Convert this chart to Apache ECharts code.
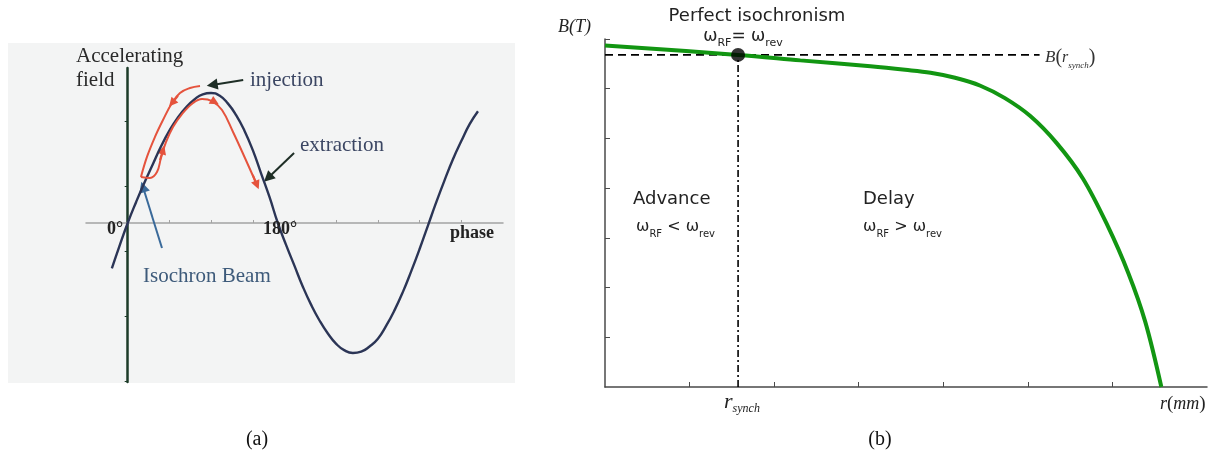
<!DOCTYPE html>
<html>
<head>
<meta charset="utf-8">
<script src="https://cdn.jsdelivr.net/npm/echarts@6.0.0/dist/echarts.min.js"></script>
<style>
  html, body { margin: 0; padding: 0; background: #fff; }
  #chart { width: 1212px; height: 457px; }
</style>
</head>
<body>
<div id="chart"></div>
<script>
// ---- panel (a): accelerating field vs phase (degrees) ----
var phaseDeg = [-19, -10, 0, 10, 20, 30, 40, 50, 60, 70, 80, 90, 100, 110, 120, 130, 140, 150, 160, 170,
  180, 190, 200, 210, 220, 230, 240, 250, 260, 270, 280, 290, 300, 310, 320, 330, 340, 350, 360,
  370, 380, 390, 400, 410, 420];
var fieldA = [-0.35, -0.18, 0, 0.16, 0.31, 0.45, 0.59, 0.71, 0.81, 0.89, 0.95, 0.99, 1.0, 0.98, 0.92, 0.83, 0.71, 0.56, 0.38, 0.2,
  0, -0.17, -0.33, -0.49, -0.63, -0.75, -0.85, -0.93, -0.98, -1.0, -0.99, -0.95, -0.89, -0.79, -0.67, -0.53, -0.37, -0.2, -0.02,
  0.16, 0.33, 0.49, 0.63, 0.76, 0.86];
var fieldTicks = [-1.22, -0.72, -0.22, 0.28, 0.78];
var phaseTicks = [50, 100, 150, 200, 250, 300, 350, 400];

// red beam paths [phase, field]
var outerPath = [[86.7, 1.054], [74.7, 1.038], [62.7, 1.0], [53.1, 0.923], [42.3, 0.792], [32.7, 0.662], [23.1, 0.508], [15.9, 0.354]];
var innerPath = [[15.9, 0.354], [26.7, 0.346], [35.1, 0.392], [39.9, 0.5], [46, 0.623], [54.3, 0.738], [65.1, 0.838],
  [78.3, 0.923], [89.1, 0.954], [101.1, 0.938], [113.1, 0.869], [126.3, 0.7], [140.6, 0.5], [155, 0.292]];
var redHeads = [
  [[60.3, 0.977], [53.1, 0.923]],
  [[38.7, 0.485], [42.3, 0.562]],
  [[100.5, 0.945], [104.5, 0.93]],
  [[150, 0.369], [155, 0.292]]
];
var blackArrows = [
  [[138.5, 1.1], [101.3, 1.062]],
  [[199.5, 0.538], [168.2, 0.346]]
];
var blueArrow = [[41.1, -0.192], [18.3, 0.277]];

// ---- panel (b): B(T) vs r(mm) ----
var radiusR = [0, 1.574, 2.31, 3.14, 3.55, 3.85, 4.14, 4.44, 4.73, 5.03, 5.34, 5.65, 5.94, 6.19, 6.39, 6.58];
var fieldB = [6.87, 6.68, 6.57, 6.45, 6.38, 6.32, 6.22, 6.06, 5.81, 5.45, 4.91, 4.2, 3.26, 2.29, 1.31, 0];
var rSynch = 1.574;
var bSynch = 6.68;
var dashEndR = 5.14;
var rTicks = [1, 2, 3, 4, 5, 6];
var bTicks = [1, 2, 3, 4, 5, 6, 7];

var chart = echarts.init(document.getElementById('chart'));

var serif = 'Liberation Serif';
var sans = 'DejaVu Sans';

function txt(x, y, text, font, fill, align) {
  return {
    type: 'text', x: x, y: y, z: 100,
    style: { text: text, font: font, fill: fill, textAlign: align || 'left', textVerticalAlign: 'middle' }
  };
}
function rich(x, y, text, richStyles, align) {
  return {
    type: 'text', x: x, y: y, z: 100,
    style: { text: text, rich: richStyles, textAlign: align || 'left', textVerticalAlign: 'middle' }
  };
}
var omegaRich = {
  w: { fontSize: 16, fontFamily: sans, fill: '#222', lineHeight: 24, verticalAlign: 'middle' },
  s: { fontSize: 10, fontFamily: sans, fill: '#222', lineHeight: 11, verticalAlign: 'bottom' }
};
var omegaTop = {
  w: { fontSize: 17, fontFamily: sans, fill: '#222', lineHeight: 24, verticalAlign: 'middle' },
  s: { fontSize: 11, fontFamily: sans, fill: '#222', lineHeight: 12, verticalAlign: 'bottom' }
};

var option = {
  backgroundColor: '#fff',
  animation: false,
  grid: [
    { left: 8, top: 43, width: 507, height: 340, show: true, backgroundColor: '#f3f4f4', borderWidth: 0 },
    { left: 86, top: 68, width: 417, height: 314 },
    { left: 605, top: 39, width: 602, height: 348 }
  ],
  xAxis: [
    { gridIndex: 0, type: 'value', show: false },
    {
      gridIndex: 1, type: 'value', min: -50, max: 450, interval: 50,
      axisLine: { lineStyle: { color: '#a3a3a3', width: 1.5 } },
      axisTick: { inside: true, length: 3, customValues: phaseTicks, lineStyle: { color: '#a3a3a3' } },
      axisLabel: { show: false }, splitLine: { show: false }
    },
    {
      gridIndex: 2, type: 'value', min: 0, max: 7.12,
      axisLine: { onZero: false, lineStyle: { color: '#4a4a4a', width: 1.5 } },
      axisTick: { inside: true, length: 5, customValues: rTicks, lineStyle: { color: '#4a4a4a' } },
      axisLabel: { show: false }, splitLine: { show: false }
    }
  ],
  yAxis: [
    { gridIndex: 0, type: 'value', show: false },
    {
      gridIndex: 1, type: 'value', min: -1.223, max: 1.192,
      axisLine: { show: true, lineStyle: { color: '#1c3b28', width: 2.5 } },
      axisTick: { show: true, inside: false, length: 3, customValues: fieldTicks, lineStyle: { color: '#1c3b28' } },
      axisLabel: { show: false }, splitLine: { show: false }
    },
    {
      gridIndex: 2, type: 'value', min: 0, max: 7,
      axisLine: { show: true, onZero: false, lineStyle: { color: '#4a4a4a', width: 1.5 } },
      axisTick: { show: true, inside: true, length: 5, customValues: bTicks, lineStyle: { color: '#4a4a4a' } },
      axisLabel: { show: false }, splitLine: { show: false }
    }
  ],
  series: [
    {
      type: 'line', xAxisIndex: 1, yAxisIndex: 1, smooth: true, showSymbol: false,
      lineStyle: { color: '#2b3556', width: 2.4 },
      data: phaseDeg.map(function (p, i) { return [p, fieldA[i]]; })
    },
    {
      type: 'line', xAxisIndex: 1, yAxisIndex: 1, smooth: 0.4, showSymbol: false,
      lineStyle: { color: '#e5533d', width: 2 }, data: outerPath
    },
    {
      type: 'line', xAxisIndex: 1, yAxisIndex: 1, smooth: 0.4, showSymbol: false,
      lineStyle: { color: '#e5533d', width: 2 }, data: innerPath
    },
    {
      type: 'lines', coordinateSystem: 'cartesian2d', xAxisIndex: 1, yAxisIndex: 1,
      symbol: ['none', 'triangle'], symbolSize: [7, 9],
      lineStyle: { color: '#e5533d', width: 2, opacity: 1 },
      data: redHeads.map(function (c) { return { coords: c }; })
    },
    {
      type: 'lines', coordinateSystem: 'cartesian2d', xAxisIndex: 1, yAxisIndex: 1,
      symbol: ['none', 'triangle'], symbolSize: [9, 11],
      lineStyle: { color: '#1e2e26', width: 2, opacity: 1 },
      data: blackArrows.map(function (c) { return { coords: c }; })
    },
    {
      type: 'lines', coordinateSystem: 'cartesian2d', xAxisIndex: 1, yAxisIndex: 1,
      symbol: ['none', 'triangle'], symbolSize: [9, 11],
      lineStyle: { color: '#3a6a9a', width: 2, opacity: 1 },
      data: [{ coords: blueArrow }]
    },
    {
      type: 'line', xAxisIndex: 2, yAxisIndex: 2, showSymbol: false,
      lineStyle: { color: '#000', width: 1.6, type: [8, 5] },
      data: [[0, bSynch], [dashEndR, bSynch]]
    },
    {
      type: 'line', xAxisIndex: 2, yAxisIndex: 2, showSymbol: false,
      lineStyle: { color: '#000', width: 1.6, type: [7, 3, 2, 3] },
      data: [[rSynch, 0], [rSynch, bSynch]]
    },
    {
      type: 'line', xAxisIndex: 2, yAxisIndex: 2, smooth: 0.35, showSymbol: false,
      lineStyle: { color: '#129612', width: 4 },
      data: radiusR.map(function (r, i) { return [r, fieldB[i]]; })
    },
    {
      type: 'scatter', xAxisIndex: 2, yAxisIndex: 2, symbolSize: 14, z: 10,
      itemStyle: { color: '#000' }, data: [[rSynch, bSynch]]
    }
  ],
  graphic: [
    // panel (a) texts
    txt(76, 56, 'Accelerating', '21px ' + serif, '#2a2a2a'),
    txt(76, 80, 'field', '21px ' + serif, '#2a2a2a'),
    txt(250, 80, 'injection', '21px ' + serif, '#3b4663'),
    txt(300, 145, 'extraction', '21px ' + serif, '#3b4663'),
    txt(143, 276, 'Isochron Beam', '21px ' + serif, '#3d5a7a'),
    txt(107, 229, '0°', 'bold 18px ' + serif, '#222'),
    txt(263, 229, '180°', 'bold 18px ' + serif, '#222'),
    txt(450, 233, 'phase', 'bold 18px ' + serif, '#222'),
    txt(257, 440, '(a)', '20px ' + serif, '#111', 'center'),
    // panel (b) texts
    txt(757, 16, 'Perfect isochronism', '18px ' + sans, '#222', 'center'),
    rich(743, 37, '{w|ω}{s|RF}{w|= ω}{s|rev}', omegaTop, 'center'),
    txt(633, 199, 'Advance', '18px ' + sans, '#222'),
    rich(636, 227, '{w|ω}{s|RF}{w| < ω}{s|rev}', omegaRich),
    txt(863, 199, 'Delay', '18px ' + sans, '#222'),
    rich(863, 227, '{w|ω}{s|RF}{w| > ω}{s|rev}', omegaRich),
    txt(558, 27, 'B(T)', 'italic 18px ' + serif, '#222'),
    rich(1045, 58, '{b|B}{p|(}{r|r}{s|synch}{p|)}', {
      b: { fontSize: 17, fontFamily: serif, fontStyle: 'italic', fill: '#333', lineHeight: 24, verticalAlign: 'middle' },
      p: { fontSize: 20, fontFamily: serif, fill: '#333', lineHeight: 24, verticalAlign: 'middle' },
      r: { fontSize: 16, fontFamily: serif, fontStyle: 'italic', fill: '#333', lineHeight: 24, verticalAlign: 'middle' },
      s: { fontSize: 9, fontFamily: serif, fontStyle: 'italic', fill: '#333', lineHeight: 10, verticalAlign: 'bottom' }
    }),
    rich(742, 402, '{r|r}{s|synch}', {
      r: { fontSize: 22, fontFamily: serif, fontStyle: 'italic', fill: '#222', lineHeight: 26, verticalAlign: 'middle' },
      s: { fontSize: 12, fontFamily: serif, fontStyle: 'italic', fill: '#222', lineHeight: 12, verticalAlign: 'bottom' }
    }, 'center'),
    rich(1160, 404, '{i|r}{p|(}{i|mm}{p|)}', {
      i: { fontSize: 18, fontFamily: serif, fontStyle: 'italic', fill: '#222', lineHeight: 24, verticalAlign: 'middle' },
      p: { fontSize: 19, fontFamily: serif, fill: '#222', lineHeight: 24, verticalAlign: 'middle' }
    }),
    txt(880, 440, '(b)', '20px ' + serif, '#111', 'center')
  ]
};

chart.setOption(option);
</script>
</body>
</html>
